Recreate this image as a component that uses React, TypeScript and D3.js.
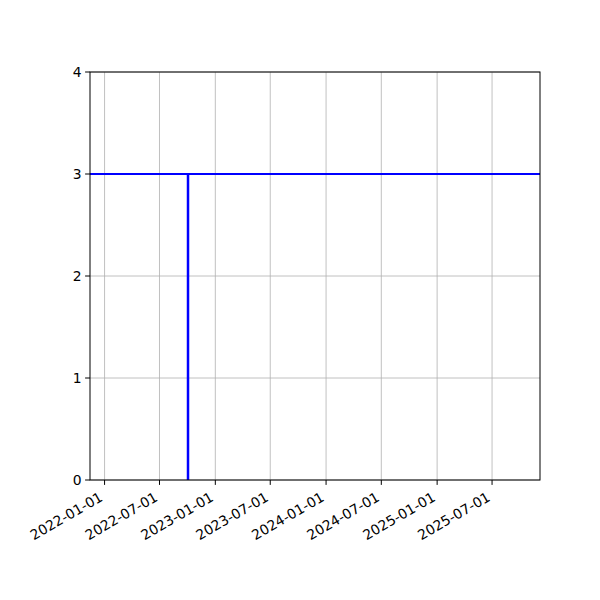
import React, { useEffect, useRef } from 'react';
import * as d3 from 'd3';

// chart values
const xDomainDates = ['2021-11-14', '2025-12-06'];
const yDomainValues = [0, 4];
const yTickValues = [0, 1, 2, 3, 4];
const xTickDates = [
  '2022-01-01', '2022-07-01', '2023-01-01', '2023-07-01',
  '2024-01-01', '2024-07-01', '2025-01-01', '2025-07-01'
];
const hLineValues = [3];
const vLineDates = ['2022-10-03'];
const vLineTops = [3];

const parseDate = d3.utcParse('%Y-%m-%d');
const formatDate = d3.utcFormat('%Y-%m-%d');

const App: React.FC = () => {
  const svgRef = useRef<SVGSVGElement>(null);

  useEffect(() => {
    if (!svgRef.current) return;
    const svg = d3.select(svgRef.current);
    svg.selectAll('*').remove();

    const width = 600;
    const height = 600;
    const margin = { top: 72, right: 60, bottom: 120, left: 90 };
    const innerWidth = width - margin.left - margin.right;
    const innerHeight = height - margin.top - margin.bottom;
    const font = 'DejaVu Sans, sans-serif';
    const fontSize = '13.9px';

    svg.append('rect')
      .attr('width', width)
      .attr('height', height)
      .attr('fill', '#fff');

    const g = svg.append('g')
      .attr('transform', `translate(${margin.left},${margin.top})`);

    const x = d3.scaleUtc()
      .domain(xDomainDates.map(d => parseDate(d) as Date))
      .range([0, innerWidth]);

    const y = d3.scaleLinear()
      .domain(yDomainValues)
      .range([innerHeight, 0]);

    const xTicks = xTickDates.map(d => parseDate(d) as Date);

    // Grid
    g.append('g')
      .selectAll('line')
      .data(xTicks)
      .join('line')
      .attr('x1', d => x(d))
      .attr('x2', d => x(d))
      .attr('y1', 0)
      .attr('y2', innerHeight)
      .attr('stroke', '#b0b0b0')
      .attr('stroke-width', 0.8);

    g.append('g')
      .selectAll('line')
      .data(yTickValues)
      .join('line')
      .attr('x1', 0)
      .attr('x2', innerWidth)
      .attr('y1', d => y(d))
      .attr('y2', d => y(d))
      .attr('stroke', '#b0b0b0')
      .attr('stroke-width', 0.8);

    // Data lines
    g.append('g')
      .selectAll('line')
      .data(hLineValues)
      .join('line')
      .attr('x1', 0)
      .attr('x2', innerWidth)
      .attr('y1', d => y(d))
      .attr('y2', d => y(d))
      .attr('stroke', '#0000ff')
      .attr('stroke-width', 2);

    g.append('g')
      .selectAll('line')
      .data(vLineDates.map((d, i) => ({ date: parseDate(d) as Date, top: vLineTops[i] })))
      .join('line')
      .attr('x1', d => x(d.date))
      .attr('x2', d => x(d.date))
      .attr('y1', y(0))
      .attr('y2', d => y(d.top))
      .attr('stroke', '#0000ff')
      .attr('stroke-width', 2.5);

    // Frame
    g.append('rect')
      .attr('width', innerWidth)
      .attr('height', innerHeight)
      .attr('fill', 'none')
      .attr('stroke', '#000')
      .attr('stroke-width', 1);

    // X axis ticks + rotated labels
    const xt = g.append('g').selectAll('g')
      .data(xTicks)
      .join('g')
      .attr('transform', d => `translate(${x(d)},${innerHeight})`);

    xt.append('line')
      .attr('y2', 4.9)
      .attr('stroke', '#000')
      .attr('stroke-width', 1);

    xt.append('text')
      .attr('transform', 'translate(-6,11) rotate(-30)')
      .attr('text-anchor', 'end')
      .attr('dominant-baseline', 'hanging')
      .attr('font-family', font)
      .attr('font-size', fontSize)
      .attr('fill', '#000')
      .text(d => formatDate(d));

    // Y axis ticks + labels
    const yt = g.append('g').selectAll('g')
      .data(yTickValues)
      .join('g')
      .attr('transform', d => `translate(0,${y(d)})`);

    yt.append('line')
      .attr('x2', -4.9)
      .attr('stroke', '#000')
      .attr('stroke-width', 1);

    yt.append('text')
      .attr('x', -8.4)
      .attr('text-anchor', 'end')
      .attr('dominant-baseline', 'central')
      .attr('font-family', font)
      .attr('font-size', fontSize)
      .attr('fill', '#000')
      .text(d => d);
  }, []);

  return <svg ref={svgRef} width={600} height={600} style={{ display: 'block', margin: -8 }} />;
};

export default App;
